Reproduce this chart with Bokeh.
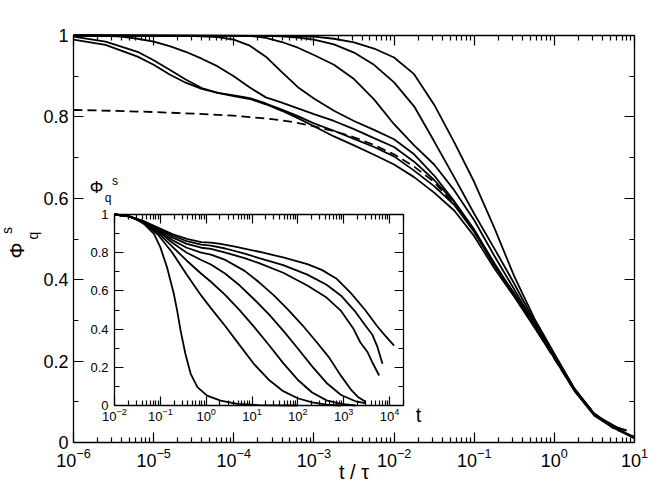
import numpy as np
from bokeh.plotting import figure
from bokeh.models import (LogAxis, LinearAxis, FixedTicker, Label, Range1d, LogScale,
                          CustomJSTickFormatter)
from bokeh.layouts import column
from bokeh.embed import file_html
from bokeh.resources import INLINE

FONT = "Liberation Sans"

# ---------------- main panel data (log10 t/tau, Phi_q^s) ----------------
c1_logt = [-6.0, -5.6, -5.2, -5.0, -4.8, -4.6, -4.4, -4.2, -4.0, -3.8, -3.6, -3.4, -3.2, -3.0,
           -2.75, -2.5, -2.25, -2.0, -1.75, -1.5, -1.25, -1.0, -0.75, -0.5, -0.25, 0.0, 0.25, 0.5, 0.75]
c1_phi = [0.990, 0.977, 0.948, 0.928, 0.904, 0.884, 0.869, 0.859, 0.851, 0.844, 0.831, 0.815, 0.797, 0.777,
          0.752, 0.730, 0.707, 0.683, 0.652, 0.614, 0.570, 0.507, 0.428, 0.358, 0.283, 0.207, 0.127, 0.066, 0.034]

c2_logt = [-6.0, -5.6, -5.2, -5.0, -4.8, -4.6, -4.4, -4.2, -4.0, -3.8, -3.6, -3.4, -3.2, -3.0,
           -2.75, -2.5, -2.25, -2.0, -1.75, -1.5, -1.25, -1.0, -0.75, -0.5, -0.25, 0.0, 0.25, 0.5, 0.85]
c2_phi = [0.997, 0.985, 0.960, 0.939, 0.916, 0.892, 0.871, 0.859, 0.853, 0.846, 0.833, 0.818, 0.802, 0.784,
          0.766, 0.746, 0.726, 0.703, 0.668, 0.630, 0.584, 0.517, 0.436, 0.366, 0.289, 0.212, 0.131, 0.068, 0.030]

c3_logt = [-6.0, -5.6, -5.4, -5.2, -5.0, -4.8, -4.6, -4.4, -4.2, -4.0, -3.8, -3.6, -3.4, -3.2, -3.0,
           -2.75, -2.5, -2.25, -2.0, -1.75, -1.5, -1.25, -1.0, -0.75, -0.5, -0.25, 0.0, 0.25, 0.5, 0.75, 0.9]
c3_phi = [1.0, 0.999, 0.997, 0.992, 0.985, 0.974, 0.960, 0.943, 0.924, 0.900, 0.872, 0.848, 0.835, 0.821, 0.807,
          0.790, 0.770, 0.748, 0.726, 0.690, 0.645, 0.591, 0.521, 0.438, 0.362, 0.286, 0.210, 0.129, 0.069, 0.039, 0.030]

c4_logt = [-6.0, -4.6, -4.4, -4.2, -4.0, -3.8, -3.6, -3.4, -3.2, -3.0, -2.75, -2.5, -2.25, -2.0,
           -1.75, -1.5, -1.25, -1.0, -0.75, -0.5, -0.25, 0.0, 0.25, 0.5, 0.75, 0.9]
c4_phi = [1.0, 0.999, 0.998, 0.996, 0.990, 0.975, 0.948, 0.910, 0.873, 0.845, 0.815, 0.790, 0.768, 0.745,
          0.708, 0.656, 0.593, 0.523, 0.441, 0.364, 0.287, 0.210, 0.128, 0.067, 0.038, 0.029]

c5_logt = [-6.0, -3.8, -3.6, -3.4, -3.2, -3.0, -2.75, -2.5, -2.25, -2.0, -1.75, -1.5, -1.25, -1.0,
           -0.75, -0.5, -0.25, 0.0, 0.25, 0.5, 0.75, 1.0]
c5_phi = [1.0, 0.999, 0.994, 0.984, 0.970, 0.952, 0.928, 0.893, 0.843, 0.782, 0.730, 0.683, 0.620, 0.546,
          0.459, 0.376, 0.292, 0.213, 0.131, 0.069, 0.036, 0.012]

c6_logt = [-6.0, -3.6, -3.4, -3.2, -3.0, -2.75, -2.5, -2.25, -2.0, -1.75, -1.5, -1.25, -1.0,
           -0.75, -0.5, -0.25, 0.0, 0.25, 0.5, 0.75, 1.0]
c6_phi = [1.0, 0.999, 0.998, 0.995, 0.990, 0.978, 0.958, 0.928, 0.885, 0.826, 0.740, 0.652, 0.562,
          0.477, 0.390, 0.298, 0.215, 0.132, 0.070, 0.037, 0.013]

c7_logt = [-6.0, -3.5, -3.0, -2.75, -2.5, -2.25, -2.0, -1.75, -1.5, -1.25, -1.0, -0.75, -0.5,
           -0.25, 0.0, 0.25, 0.5, 0.75, 1.0]
c7_phi = [1.0, 0.999, 0.997, 0.992, 0.983, 0.968, 0.946, 0.905, 0.830, 0.738, 0.640, 0.528, 0.408,
          0.305, 0.218, 0.133, 0.069, 0.035, 0.010]

fit_logt = [-6.0, -5.5, -5.0, -4.5, -4.0, -3.5, -3.25, -3.0, -2.75, -2.5, -2.25, -2.0, -1.75, -1.5,
            -1.25, -1.0, -0.75, -0.5, -0.25, 0.0, 0.25, 0.5, 0.75, 1.0]
fit_phi = [0.817, 0.815, 0.812, 0.808, 0.803, 0.794, 0.787, 0.777, 0.765, 0.750, 0.731, 0.708, 0.678, 0.640,
           0.585, 0.520, 0.437, 0.362, 0.285, 0.206, 0.128, 0.072, 0.033, 0.014]

# ---------------- inset data (log10 t, Phi_q^s) ----------------
i1_logt = [-2.0, -1.727, -1.527, -1.358, -1.138, -1.001, -0.854, -0.706, -0.633, -0.559, -0.454, -0.338,
           -0.191, 0.019, 0.314, 0.682, 1.155, 1.996]
i1_phi = [1.0, 0.995, 0.975, 0.951, 0.899, 0.829, 0.724, 0.585, 0.497, 0.393, 0.271, 0.166,
          0.096, 0.052, 0.026, 0.008, 0.002, 0.0]

i2_logt = [-2.0, -1.684, -1.369, -1.053, -0.738, -0.422, -0.107, 0.103, 0.419, 0.734, 1.050, 1.365,
           1.681, 1.996, 2.312, 2.627, 2.943]
i2_phi = [1.0, 0.99, 0.958, 0.895, 0.80, 0.685, 0.575, 0.51, 0.415, 0.315, 0.215, 0.135,
          0.075, 0.038, 0.016, 0.004, 0.0]

i3_logt = [-2.0, -1.684, -1.369, -1.053, -0.738, -0.422, -0.107, 0.103, 0.419, 0.734, 1.050, 1.365,
           1.681, 1.996, 2.312, 2.627, 2.943, 3.259]
i3_phi = [1.0, 0.99, 0.96, 0.905, 0.832, 0.758, 0.69, 0.648, 0.578, 0.498, 0.41, 0.318,
          0.222, 0.135, 0.068, 0.027, 0.008, 0.0]

i4_logt = [-2.0, -1.684, -1.369, -1.053, -0.738, -0.422, -0.107, 0.103, 0.419, 0.734, 1.050, 1.365,
           1.681, 1.996, 2.312, 2.627, 2.943, 3.259, 3.469]
i4_phi = [1.0, 0.99, 0.962, 0.915, 0.852, 0.800, 0.762, 0.738, 0.690, 0.628, 0.555, 0.478,
          0.392, 0.300, 0.205, 0.118, 0.055, 0.022, 0.012]

i5_logt = [-2.0, -1.684, -1.369, -1.053, -0.738, -0.422, -0.107, 0.103, 0.419, 0.840, 1.155, 1.471,
           1.786, 2.102, 2.417, 2.680, 2.943, 3.153, 3.311, 3.479]
i5_phi = [1.0, 0.99, 0.963, 0.92, 0.866, 0.826, 0.80, 0.79, 0.762, 0.705, 0.645, 0.578,
          0.502, 0.42, 0.33, 0.252, 0.155, 0.085, 0.045, 0.02]

i6_logt = [-2.0, -1.684, -1.369, -1.053, -0.738, -0.422, -0.107, 0.103, 0.419, 0.840, 1.155, 1.681,
           2.207, 2.627, 2.943, 3.206, 3.364, 3.521, 3.627, 3.774]
i6_phi = [1.0, 0.99, 0.964, 0.925, 0.88, 0.846, 0.826, 0.82, 0.80, 0.772, 0.745, 0.695,
          0.628, 0.565, 0.495, 0.405, 0.33, 0.28, 0.225, 0.157]

i7_logt = [-2.0, -1.684, -1.369, -1.053, -0.738, -0.422, -0.107, 0.103, 0.419, 0.840, 1.155, 1.681,
           2.207, 2.627, 2.943, 3.259, 3.469, 3.627, 3.732, 3.847]
i7_phi = [1.0, 0.99, 0.965, 0.928, 0.89, 0.86, 0.842, 0.837, 0.822, 0.795, 0.772, 0.735,
          0.685, 0.632, 0.575, 0.49, 0.42, 0.37, 0.31, 0.218]

i8_logt = [-2.0, -1.684, -1.369, -1.053, -0.738, -0.422, -0.107, 0.103, 0.314, 0.629, 1.155, 1.681,
           2.207, 2.522, 2.838, 3.153, 3.469, 3.732, 3.890, 4.100]
i8_phi = [1.0, 0.99, 0.966, 0.932, 0.897, 0.872, 0.855, 0.853, 0.846, 0.832, 0.805, 0.775,
          0.74, 0.71, 0.665, 0.59, 0.50, 0.415, 0.37, 0.314]

# ---------------- axes definitions ----------------
main_x_decades = [-6, -5, -4, -3, -2, -1, 0, 1]
inset_x_decades = [-2, -1, 0, 1, 2, 3, 4]
y_major = [0.0, 0.2, 0.4, 0.6, 0.8, 1.0]
y_minor = [0.1, 0.3, 0.5, 0.7, 0.9]

# ---------------- layout (pixels) ----------------
MW, MH = 648, 482                 # main canvas
M_FX0, M_FX1 = 73, 634            # main frame left / right
M_FY1, M_FY0 = 35, 442            # main frame top / bottom
M_DEC = (73, 634)                 # pixel of first / last main decade
IL, IT, IW, IH = 60, 172, 365, 257    # inset canvas position and size (in page)
I_FX0, I_FX1 = 114, 403           # inset frame left / right (page)
I_FY1, I_FY0 = 214, 405           # inset frame top / bottom (page)
I_DEC = (114, 389)                # pixel of first / last inset decade (page)


def log_ticker(decades, lo, hi):
    major = [10.0 ** d for d in decades]
    minor = [m * 10.0 ** d for d in [decades[0] - 1] + decades for m in range(2, 10)]
    minor = [v for v in minor if lo * 1.0001 < v < hi * 0.9999]
    return FixedTicker(ticks=major, minor_ticks=minor)


def y_ticker():
    return FixedTicker(ticks=y_major, minor_ticks=y_minor)


yfmt_code = "return String(Math.round(tick * 10) / 10)"


def style_axis(ax, major_in, minor_in, size, show, standoff):
    ax.major_tick_in = major_in
    ax.major_tick_out = 0
    ax.minor_tick_in = minor_in
    ax.minor_tick_out = 0
    ax.axis_line_color = "black"
    ax.axis_line_width = 1.3
    ax.major_tick_line_color = "black"
    ax.minor_tick_line_color = "black"
    ax.major_tick_line_width = 1.2
    ax.minor_tick_line_width = 1.2
    ax.major_label_text_font = FONT
    ax.major_label_text_font_style = "normal"
    ax.major_label_standoff = standoff
    if show:
        ax.major_label_text_font_size = f"{size}px"
        ax.major_label_text_color = "black"
    else:
        ax.major_label_text_font_size = "1px"
        ax.major_label_text_color = None


def make_panel(width, height, decades, fx0, fx1, fy1, fy0, dec_px, major_in, minor_in,
               fsize, xstand, ystand):
    d0, d1 = decades[0], decades[-1]
    ppd = (dec_px[1] - dec_px[0]) / (d1 - d0)
    lx0 = d0 + (fx0 - dec_px[0]) / ppd
    lx1 = d0 + (fx1 - dec_px[0]) / ppd
    ppu = fy0 - fy1
    xr = Range1d(10 ** (lx0 - fx0 / ppd), 10 ** (lx1 + (width - fx1) / ppd))
    yr = Range1d(-(height - fy0) / ppu, 1 + fy1 / ppu)
    f = figure(width=width, height=height, x_axis_type=None, y_axis_type=None,
               x_range=xr, y_range=yr, output_backend="svg", toolbar_location=None,
               min_border=0, min_border_left=0, min_border_right=0,
               min_border_top=0, min_border_bottom=0)
    f.x_scale = LogScale()
    f.frame_align = False
    f.xgrid.visible = False
    f.ygrid.visible = False
    f.outline_line_color = None
    f.background_fill_color = None
    f.border_fill_color = None
    xb = (10.0 ** lx0, 10.0 ** lx1)
    bottom = LogAxis(ticker=log_ticker(decades, *xb), fixed_location=0, bounds=xb)
    style_axis(bottom, major_in, minor_in, fsize, True, xstand)
    f.add_layout(bottom, "below")
    top = LogAxis(ticker=log_ticker(decades, *xb), fixed_location=1, bounds=xb)
    style_axis(top, major_in, minor_in, 1, False, 0)
    f.add_layout(top, "above")
    left = LinearAxis(ticker=y_ticker(), formatter=CustomJSTickFormatter(code=yfmt_code),
                      fixed_location=xb[0], bounds=(0, 1))
    style_axis(left, major_in, minor_in, fsize, True, ystand)
    f.add_layout(left, "left")
    right = LinearAxis(ticker=y_ticker(), fixed_location=xb[1], bounds=(0, 1))
    style_axis(right, major_in, minor_in, 1, False, 0)
    f.add_layout(right, "right")

    def to_data(px, py):
        return 10 ** (d0 + (px - dec_px[0]) / ppd), (fy0 - py) / ppu
    return f, to_data


def add_curve(fig, logt, phi, dash="solid"):
    t = np.power(10.0, np.array(logt))
    fig.line(t, np.array(phi), line_color="black", line_width=1.8, line_dash=dash)


def lbl(fig, to_data, px, py, text, size, angle=0.0):
    x, y = to_data(px, py)
    fig.add_layout(Label(x=x, y=y, text=text, text_font=FONT,
                         text_font_size=f"{size}px", text_align="center",
                         text_baseline="middle", text_color="black", angle=angle))


# ---------------- main figure ----------------
main, main_xy = make_panel(MW, MH, main_x_decades, M_FX0, M_FX1, M_FY1, M_FY0, M_DEC,
                           10, 5, 18, 5, 5)
main.background_fill_color = "white"
main.border_fill_color = "white"

for lt, ph in [(c1_logt, c1_phi), (c2_logt, c2_phi), (c3_logt, c3_phi), (c4_logt, c4_phi),
               (c5_logt, c5_phi), (c6_logt, c6_phi), (c7_logt, c7_phi)]:
    add_curve(main, lt, ph)
add_curve(main, fit_logt, fit_phi, dash="9 5")

lbl(main, main_xy, (M_FX0 + M_FX1) / 2, 471, "t / τ", 20)
lbl(main, main_xy, 16, 250, "Φ", 20, angle=np.pi / 2)
lbl(main, main_xy, 32.5, 235, "q", 14, angle=np.pi / 2)
lbl(main, main_xy, 6.5, 230, "s", 14, angle=np.pi / 2)

# ---------------- inset figure ----------------
inset, inset_xy = make_panel(IW, IH, inset_x_decades, I_FX0 - IL, I_FX1 - IL, I_FY1 - IT, I_FY0 - IT,
                             (I_DEC[0] - IL, I_DEC[1] - IL), 9, 5, 13, 2, 6)
inset.margin = (IT - MH, 0, 0, IL)

for lt, ph in [(i1_logt, i1_phi), (i2_logt, i2_phi), (i3_logt, i3_phi), (i4_logt, i4_phi),
               (i5_logt, i5_phi), (i6_logt, i6_phi), (i7_logt, i7_phi), (i8_logt, i8_phi)]:
    add_curve(inset, lt, ph)

lbl(inset, inset_xy, 418 - IL, 414 - IT, "t", 20)
lbl(inset, inset_xy, 96 - IL, 186.5 - IT, "Φ", 17)
lbl(inset, inset_xy, 107.5 - IL, 197.5 - IT, "q", 12)
lbl(inset, inset_xy, 114.5 - IL, 180.5 - IT, "s", 12)

layout = column(main, inset)
open("out.html", "w").write(file_html(layout, INLINE))
